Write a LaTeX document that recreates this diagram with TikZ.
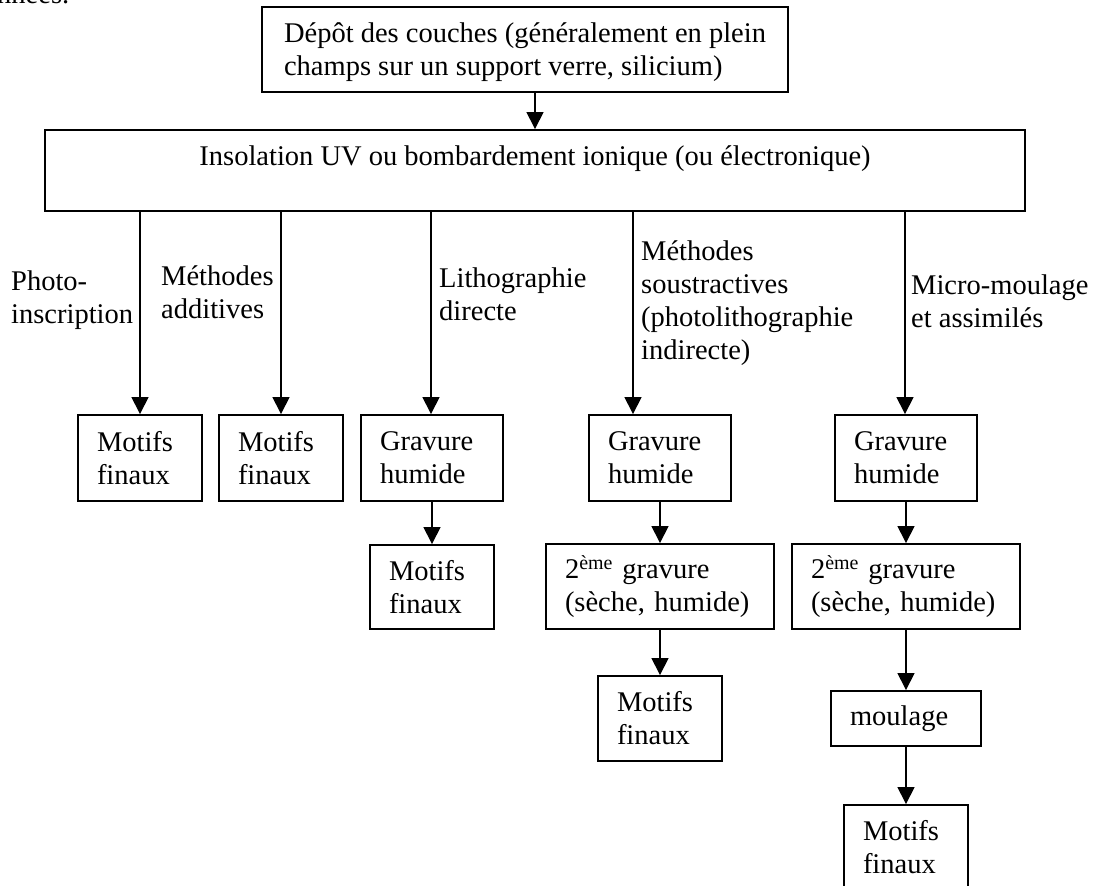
\documentclass[tikz,border=0pt]{standalone}
\usepackage{fontspec}
\setmainfont{Liberation Serif}
\usetikzlibrary{arrows.meta}
\begin{document}
\begin{tikzpicture}[x=1pt,y=-1pt,
  every node/.style={font=\fontsize{28.5}{33}\selectfont},
  bx/.style={draw, line width=1.9pt, inner xsep=19pt, inner ysep=0pt, align=left, anchor=center},
  lab/.style={anchor=base west, align=left, inner sep=0pt},
  arr/.style={line width=1.5pt, -{Triangle[length=17pt,width=17pt]}}]
\clip (0,0) rectangle (1093,886);
% clipped text at the top
\node[lab] (prev) at (-3,3.5) {nnées.};
% top boxes
\node[draw, line width=1.9pt, inner sep=0pt, align=left, minimum width=526pt, text height=68pt, text depth=17pt] (top) at (525,49.5)
  {Dépôt des couches (généralement en plein\\champs sur un support verre, silicium)};
\node[draw, line width=1.9pt, minimum width=980pt, inner sep=0pt, text height=35pt, text depth=46pt] (big) at (535,170.5)
  {Insolation UV ou bombardement ionique (ou électronique)};
\draw[arr] (top.south -| big.north) -- (big.north);
% branch starting points
\coordinate (s1) at (140,211);
\coordinate (s2) at (281,211);
\coordinate (s3) at (431,211);
\coordinate (s4) at (633,211);
\coordinate (s5) at (905,211);
% row 1
\node[bx, minimum width=124pt, minimum height=86pt, text width=86pt] (g1) at (140,458) {Motifs\\finaux};
\node[bx, minimum width=124pt, minimum height=86pt, text width=86pt] (g2) at (281,458) {Motifs\\finaux};
\node[bx, minimum width=142pt, minimum height=86pt, text width=104pt] (g3) at (432,458) {Gravure\\humide};
\node[bx, minimum width=142pt, minimum height=86pt, text width=104pt] (g4) at (660,458) {Gravure\\humide};
\node[bx, minimum width=142pt, minimum height=86pt, text width=104pt] (g5) at (906,458) {Gravure\\humide};
% row 2
\node[bx, minimum width=124pt, minimum height=84pt, text width=86pt] (m3) at (432,587) {Motifs\\finaux};
\node[bx, minimum width=228pt, minimum height=85pt, text width=190pt] (d4) at (660,586.5) {2\textsuperscript{ème} gravure\\(sèche, humide)};
\node[bx, minimum width=228pt, minimum height=85pt, text width=190pt] (d5) at (906,586.5) {2\textsuperscript{ème} gravure\\(sèche, humide)};
% row 3
\node[bx, minimum width=124pt, minimum height=85pt, text width=86pt] (m4) at (660,718.5) {Motifs\\finaux};
\node[bx, minimum width=150pt, minimum height=55pt, text width=112pt] (mo5) at (906,718.5) {moulage};
% row 4
\node[bx, minimum width=124pt, minimum height=85pt, text width=86pt] (f5) at (906,847.5) {Motifs\\finaux};
% branch labels (anchored at the baseline of their last line)
\node[lab] (l1) at (11,323) {Photo-\\inscription};
\node[lab] (l2) at (161,318) {Méthodes\\additives};
\node[lab] (l3) at (439,320) {Lithographie\\directe};
\node[lab] (l4) at (641,359) {Méthodes\\soustractives\\(photolithographie\\indirecte)};
\node[lab] (l5) at (911,327) {Micro-moulage\\et assimilés};
% connectors
\draw[arr] (s1) -- (s1 |- g1.north);
\draw[arr] (s2) -- (s2 |- g2.north);
\draw[arr] (s3) -- (s3 |- g3.north);
\draw[arr] (s4) -- (s4 |- g4.north);
\draw[arr] (s5) -- (s5 |- g5.north);
\draw[arr] (g3.south) -- (m3.north);
\draw[arr] (g4.south) -- (d4.north);
\draw[arr] (d4.south) -- (m4.north);
\draw[arr] (g5.south) -- (d5.north);
\draw[arr] (d5.south) -- (mo5.north);
\draw[arr] (mo5.south) -- (f5.north);
\end{tikzpicture}
\end{document}
